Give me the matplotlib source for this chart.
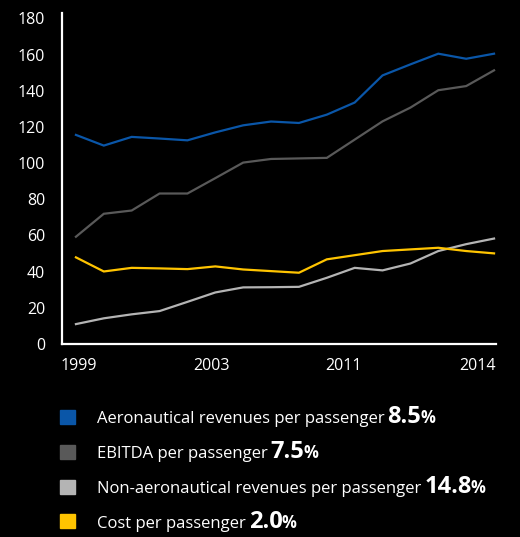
import matplotlib
matplotlib.use('Agg')
import matplotlib.pyplot as plt
from matplotlib.patches import Rectangle
import numpy as np

plt.rcParams['font.family'] = ['Open Sans', 'DejaVu Sans']

years = list(range(1999, 2015))
aero = [115.6, 109.7, 114.5, 113.6, 112.6, 117.0, 120.9, 123.0, 122.2, 126.8, 133.5, 148.5, 154.6, 160.5, 157.7, 160.5]
ebitda = [59.3, 72.0, 73.8, 83.2, 83.2, 91.7, 100.3, 102.3, 102.6, 102.9, 113.0, 123.1, 130.7, 140.3, 142.6, 151.3]
non_aero = [11.0, 14.2, 16.4, 18.2, 23.3, 28.5, 31.3, 31.4, 31.6, 36.6, 42.1, 40.7, 44.5, 51.4, 55.2, 58.3]
cost = [47.9, 40.1, 42.1, 41.8, 41.4, 42.9, 41.2, 40.3, 39.4, 46.8, 49.1, 51.4, 52.3, 53.2, 51.4, 50.1]

tick_pos = [1999.1, 2003.85, 2008.6, 2013.4]
tick_labels = ['1999', '2003', '2011', '2014']

series_names = ['Aeronautical revenues per passenger', 'EBITDA per passenger',
                'Non-aeronautical revenues per passenger', 'Cost per passenger']
cagr = ['8.5', '7.5', '14.8', '2.0']
colors = ['#0a56a8', '#595959', '#b4b4b4', '#ffc400']

fig = plt.figure(figsize=(5.2, 5.37), dpi=100, facecolor='black')
ax = fig.add_axes([62/520, 1 - 344/537, 434/520, 331/537], facecolor='black')

for vals, c in zip([aero, ebitda, non_aero, cost], colors):
    ax.plot(years, vals, color=c, lw=1.6, solid_joinstyle='miter')

ax.set_xlim(1999 - 0.5, 2014.07)
ax.set_ylim(0, 183)
ax.set_yticks(range(0, 181, 20))
ax.set_xticks(tick_pos)
ax.set_xticklabels(tick_labels)
ax.tick_params(colors='white', labelsize=11.5, length=0)
ax.tick_params(axis='y', pad=12)
ax.tick_params(axis='x', pad=10)
for s in ['top', 'right']:
    ax.spines[s].set_visible(False)
for s in ['left', 'bottom']:
    ax.spines[s].set_color('white')
    ax.spines[s].set_linewidth(1.6)

# legend rows with growth figures in bold
fig.canvas.draw()
r = fig.canvas.get_renderer()
W, H = 520, 537
baselines = [423, 458, 493, 527.5]
for name, g, c, yb in zip(series_names, cagr, colors, baselines):
    fig.patches.append(Rectangle((60/W, 1 - (yb + 0.5)/H), 15/W, 14/H,
                                 transform=fig.transFigure, color=c))
    t1 = fig.text(97/W, 1 - yb/H, name, color='white', fontsize=12, va='baseline')
    x = t1.get_window_extent(r).x1 + 3
    t2 = fig.text(x/W, 1 - yb/H, g, color='white', fontsize=17, fontweight='bold', va='baseline')
    x = t2.get_window_extent(r).x1 - 1
    fig.text(x/W, 1 - yb/H, '%', color='white', fontsize=12, fontweight='bold', va='baseline')

fig.savefig('out.png', dpi=100, facecolor='black')
